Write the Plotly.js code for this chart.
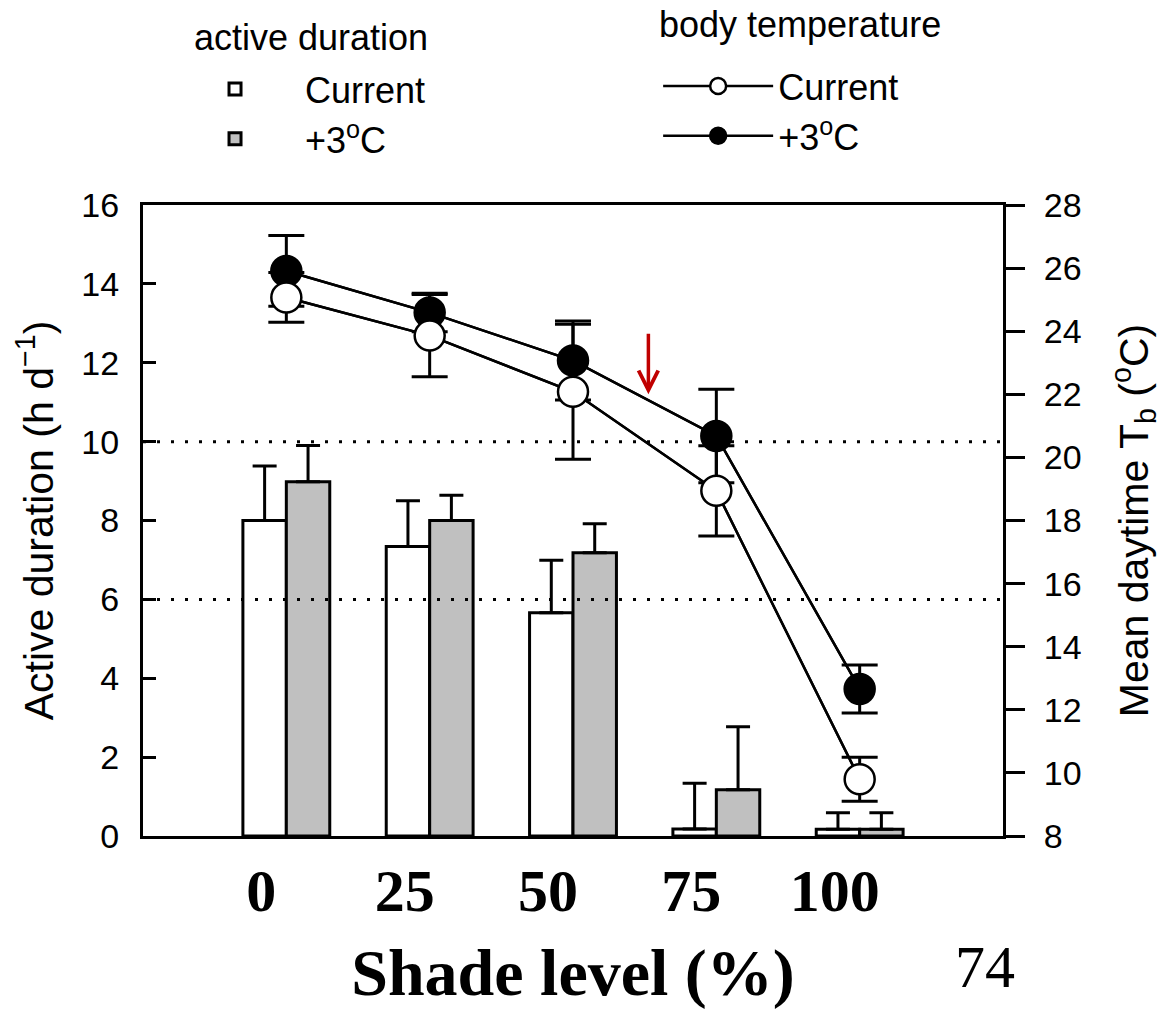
<!DOCTYPE html>
<html>
<head>
<meta charset="utf-8">
<script src="https://cdn.plot.ly/plotly-3.0.1.min.js"></script>
<style>html,body{margin:0;padding:0;background:#fff;}#chart{width:1164px;height:1012px;}</style>
</head>
<body>
<div id="chart"></div>
<script>
// Shade level categories (%)
const shadeLevels = ['0', '25', '50', '75', '100'];

// Active duration (h d^-1), left axis
const activeCurrent    = [8.0, 7.34, 5.66, 0.18, 0.17];
const activeCurrentErr = [1.38, 1.16, 1.33, 1.16, 0.42];
const activeWarm       = [8.98, 8.0, 7.18, 1.17, 0.17];
const activeWarmErr    = [0.92, 0.64, 0.74, 1.60, 0.42];

// Mean daytime body temperature (°C), right axis
const tbCurrent    = [25.07, 23.86, 22.08, 18.94, 9.80];
const tbCurrentErr = [0.79, 1.30, 2.14, 1.43, 0.70];
const tbWarm       = [25.91, 24.59, 23.07, 20.68, 12.66];
const tbWarmErr    = [1.12, 0.61, 1.25, 1.48, 0.76];

// Dotted reference levels on the left axis
const thresholds = [6, 10];

// Legend group titles
const legendTitles = ['active duration', 'body temperature'];

// Red arrow marker (category position between 50 and 75, left-axis value)
const arrowX = 2.526;
const arrowY = 11.2;

const SANS = 'Liberation Sans, Arial, sans-serif';
const SERIF = 'Liberation Serif, Times New Roman, serif';

const barLine = {color: '#000', width: 3};

const traces = [
  {
    type: 'bar', name: 'Current', x: shadeLevels, y: activeCurrent,
    marker: {color: '#ffffff', line: barLine},
    error_y: {type: 'data', array: activeCurrentErr, arrayminus: activeCurrent.map(() => 0), symmetric: false, color: '#000', thickness: 3, width: 12},
    legend: 'legend', legendgroup: 'a1', legendrank: 1
  },
  {
    type: 'bar', name: '+3<sup>o</sup>C', x: shadeLevels, y: activeWarm,
    marker: {color: '#c0c0c0', line: barLine},
    error_y: {type: 'data', array: activeWarmErr, arrayminus: activeWarm.map(() => 0), symmetric: false, color: '#000', thickness: 3, width: 12},
    legend: 'legend', legendgroup: 'a2', legendrank: 2
  },
  // error bars + connecting lines (drawn beneath the markers)
  {
    type: 'scatter', mode: 'lines', x: shadeLevels, y: tbWarm, yaxis: 'y2',
    line: {color: '#000', width: 2.5}, showlegend: false, hoverinfo: 'skip',
    error_y: {type: 'data', array: tbWarmErr, color: '#000', thickness: 3, width: 18}
  },
  {
    type: 'scatter', mode: 'lines', x: shadeLevels, y: tbCurrent, yaxis: 'y2',
    line: {color: '#000', width: 2.5}, showlegend: false, hoverinfo: 'skip',
    error_y: {type: 'data', array: tbCurrentErr, color: '#000', thickness: 3, width: 18}
  },
  {
    type: 'scatter', mode: 'lines+markers', name: '+3<sup>o</sup>C', x: shadeLevels, y: tbWarm, yaxis: 'y2',
    line: {color: '#000', width: 2.5},
    marker: {symbol: 'circle', size: 30, color: '#000', line: {color: '#000', width: 2.5}},
    legend: 'legend2', legendgroup: 'b2', legendrank: 2
  },
  {
    type: 'scatter', mode: 'lines+markers', name: 'Current', x: shadeLevels, y: tbCurrent, yaxis: 'y2',
    line: {color: '#000', width: 2.5},
    marker: {symbol: 'circle', size: 30, color: '#fff', line: {color: '#000', width: 2.5}},
    legend: 'legend2', legendgroup: 'b1', legendrank: 1
  }
];

const shapes = thresholds.map(v => ({
  type: 'line', xref: 'paper', x0: 0, x1: 1, yref: 'y', y0: v, y1: v,
  line: {color: '#000', width: 3, dash: '3px,11px'}, layer: 'above'
}));

const layout = {
  width: 1164, height: 1012,
  margin: {l: 143, r: 161, t: 205, b: 176, autoexpand: false},
  paper_bgcolor: '#fff', plot_bgcolor: '#fff',
  font: {family: SANS, color: '#000', size: 34},
  barmode: 'group', bargap: 0.394, bargroupgap: 0,
  showlegend: true,
  xaxis: {
    type: 'category', range: [-1, 5], fixedrange: true, automargin: false,
    showline: true, linecolor: '#000', linewidth: 3, mirror: true,
    ticks: '', showgrid: false, zeroline: false,
    tickfont: {family: SERIF, size: 60, color: '#000', weight: 'bold'},
    ticklabelshift: -25, ticklabelstandoff: 0,
    title: {text: '<b>Shade level (%)</b>', font: {family: SERIF, size: 66, color: '#000'}, standoff: 26}
  },
  yaxis: {
    range: [0, 16], dtick: 2, tick0: 0, automargin: false,
    showline: true, linecolor: '#000', linewidth: 3,
    ticks: 'inside', ticklen: 13, tickwidth: 3, tickcolor: '#000',
    showgrid: false, zeroline: false,
    tickfont: {family: SANS, size: 34, color: '#000'},
    ticklabelstandoff: 14,
    title: {text: 'Active duration (h d<sup>\u22121</sup>)', font: {family: SANS, size: 41, color: '#000'}, standoff: 16}
  },
  yaxis2: {
    overlaying: 'y', side: 'right', range: [8, 28], dtick: 2, tick0: 8, automargin: false,
    showline: true, linecolor: '#000', linewidth: 3,
    ticks: 'outside', ticklen: 19, tickwidth: 3, tickcolor: '#000',
    showgrid: false, zeroline: false,
    tickfont: {family: SANS, size: 34, color: '#000'},
    ticklabelstandoff: 12,
    title: {text: 'Mean daytime T<sub>b</sub> (<sup>o</sup>C)', font: {family: SANS, size: 41, color: '#000'}, standoff: 39}
  },
  legend: {
    x: 0.0256, y: 1.2314, xanchor: 'left', yanchor: 'top',
    bgcolor: 'rgba(0,0,0,0)', borderwidth: 0,
    font: {family: SANS, size: 36, color: '#000'},
    itemwidth: 130, tracegroupgap: 14, traceorder: 'normal'
  },
  legend2: {
    x: 0.599, y: 1.236, xanchor: 'left', yanchor: 'top',
    bgcolor: 'rgba(0,0,0,0)', borderwidth: 0,
    font: {family: SANS, size: 36, color: '#000'},
    itemwidth: 110, tracegroupgap: 14, traceorder: 'normal', itemsizing: 'trace'
  },
  shapes: shapes,
  annotations: [
    {
      x: 0.057, y: 1.2647, xref: 'paper', yref: 'paper', text: legendTitles[0], showarrow: false,
      font: {family: SANS, size: 36, color: '#000'}, xanchor: 'left', yanchor: 'middle'
    },
    {
      x: 0.598, y: 1.2853, xref: 'paper', yref: 'paper', text: legendTitles[1], showarrow: false,
      font: {family: SANS, size: 36, color: '#000'}, xanchor: 'left', yanchor: 'middle'
    },
    {
      x: arrowX, y: arrowY, xref: 'x', yref: 'y', text: '', showarrow: true,
      ax: 0, ay: -62, axref: 'pixel', ayref: 'pixel',
      arrowhead: 5, arrowsize: 1.1, arrowwidth: 3.5, arrowcolor: '#c00000'
    },
    {
      x: 0.979, y: -0.208, xref: 'paper', yref: 'paper', text: '74', showarrow: false,
      font: {family: SERIF, size: 60, color: '#000'}, xanchor: 'center', yanchor: 'middle'
    }
  ]
};

Plotly.newPlot('chart', traces, layout, {displayModeBar: false, staticPlot: true});
</script>
</body>
</html>
